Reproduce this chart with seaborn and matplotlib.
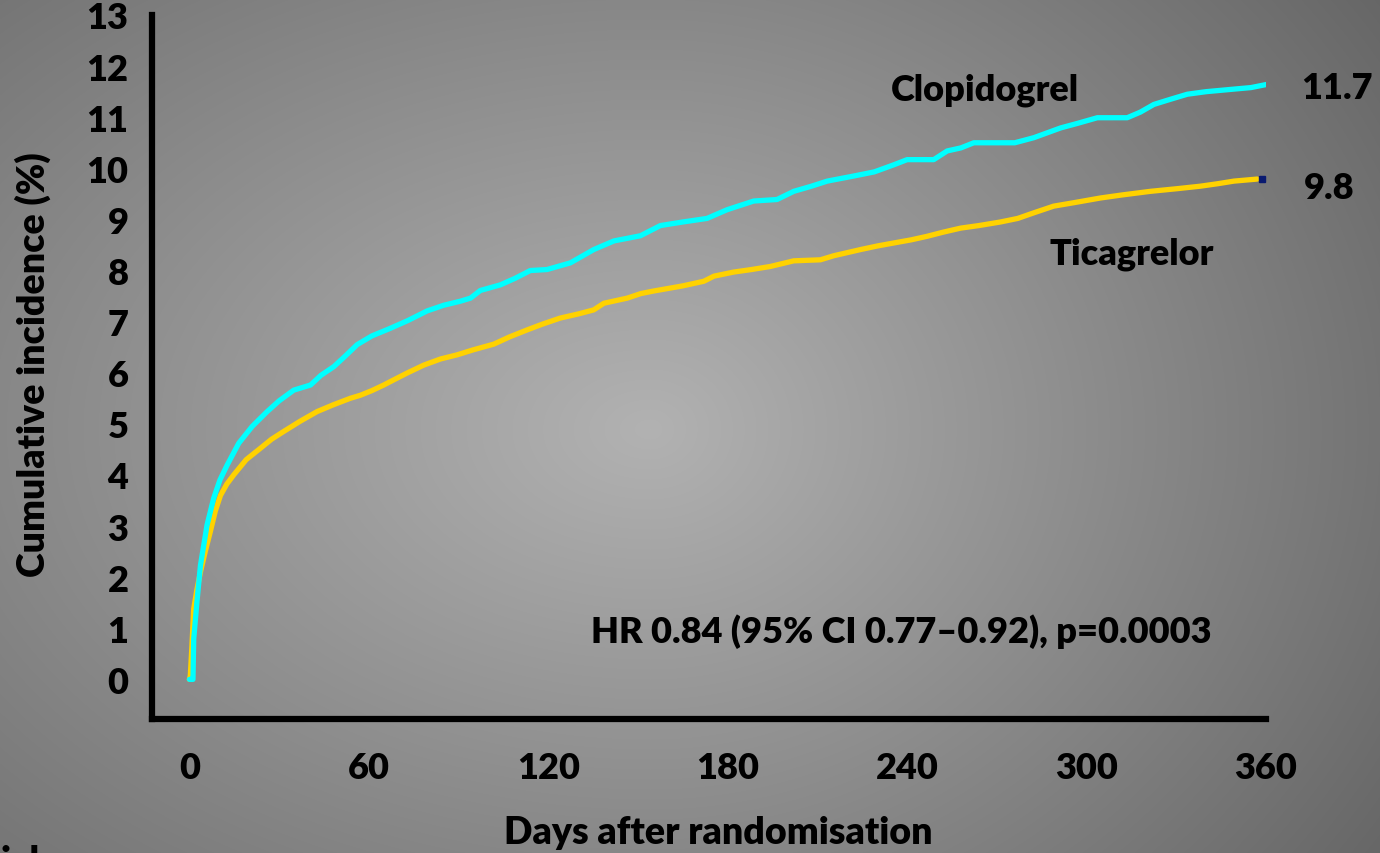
import numpy as np
import pandas as pd
import matplotlib
matplotlib.use("Agg")
import matplotlib.pyplot as plt
import seaborn as sns

# ---------------- data ----------------
clopi_days = [0, 1.2, 1.45, 2.5, 3.7, 5.9, 8.1, 10.2, 12.6, 16.5, 21, 26, 30, 34.9, 40.5, 44,
              48.3, 52, 56.1, 61, 67.2, 73, 79.5, 85, 90.6, 94, 97.3, 104, 109, 114, 119.6,
              127.4, 135.2, 142, 150.8, 157.5, 165, 173.1, 179.8, 188.7, 196.5, 202.1, 208,
              213.3, 222.2, 229, 235.6, 240, 248.9, 253.4, 258, 262.3, 271.2, 276, 282.4,
              291.3, 297, 303.6, 313.6, 318, 322.5, 328, 333.7, 340, 349.3, 355, 360.1]
clopi_vals = [0, 0, 0.79, 1.5, 2.23, 3.02, 3.54, 3.9, 4.19, 4.62, 4.95, 5.24, 5.45, 5.66, 5.76, 5.95,
              6.12, 6.32, 6.55, 6.72, 6.87, 7.02, 7.21, 7.32, 7.40, 7.46, 7.61, 7.72, 7.85, 8.0, 8.02,
              8.15, 8.41, 8.58, 8.68, 8.88, 8.95, 9.02, 9.19, 9.36, 9.39, 9.55, 9.65,
              9.75, 9.85, 9.93, 10.07, 10.17, 10.17, 10.34, 10.40, 10.5, 10.5, 10.5, 10.6,
              10.79, 10.88, 10.99, 10.99, 11.1, 11.25, 11.35, 11.45, 11.5, 11.55, 11.58, 11.64]

tica_days = [0, 0.3, 0.8, 1.45, 2.5, 3.7, 5.3, 7, 8.7, 10.4, 12.5, 14.8, 19, 23.7, 27.5, 31.5,
             37, 42.7, 48, 53.8, 57.2, 61, 65, 68.3, 73, 78.4, 84, 89.5, 95, 101.8, 107, 113,
             118, 124, 130, 135.2, 138.6, 146.4, 151, 155.3, 165, 172, 175.4, 182, 188, 194.3,
             202.1, 211, 215.5, 224.4, 230, 235.6, 241.3, 246.7, 252, 257.9, 264, 271.2, 277,
             282.4, 289, 296, 304.7, 312, 321.4, 330, 338, 344, 349.3, 357.1]
tica_vals = [0, 0.07, 0.6, 1.38, 1.75, 2.1, 2.5, 2.89, 3.3, 3.6, 3.82, 4.0, 4.3, 4.52, 4.7, 4.85,
             5.05, 5.24, 5.37, 5.5, 5.56, 5.65, 5.76, 5.86, 6.0, 6.15, 6.27, 6.35, 6.45, 6.56, 6.7, 6.84,
             6.95, 7.07, 7.15, 7.23, 7.36, 7.46, 7.55, 7.60, 7.7, 7.79, 7.89, 7.97, 8.02, 8.08,
             8.19, 8.21, 8.29, 8.41, 8.48, 8.54, 8.6, 8.67, 8.75, 8.83, 8.88, 8.95, 9.02,
             9.13, 9.26, 9.33, 9.42, 9.48, 9.55, 9.6, 9.65, 9.7, 9.75, 9.79]

end_marker_day = [358.8]
end_marker_val = [9.79]

x_ticks = [0, 60, 120, 180, 240, 300, 360]
y_ticks = list(range(0, 14))

final_labels = ["11.7", "9.8"]
final_label_y = [11.58, 9.62]
hr_text = "HR 0.84 (95% CI 0.77\u20130.92), p=0.0003"

# ---------------- style ----------------
sns.set_theme(style="white")
plt.rcParams['font.family'] = ['Lato', 'DejaVu Sans']
FW = 'heavy'

W, H = 1380, 854
fig = plt.figure(figsize=(W / 100, H / 100), dpi=100)

# radial gradient background
bg = fig.add_axes([0, 0, 1, 1], zorder=-10)
xx, yy = np.meshgrid(np.arange(W), np.arange(H))
cx, cy = 650, 430
sx = np.where(xx < cx, 950.0, 730.0)
r = np.sqrt(((xx - cx) / sx) ** 2 + ((yy - cy) / 620.0) ** 2)
g = np.clip(178 - 62 * r, 100, 200) / 255.0
bg.imshow(np.dstack([g, g, g]), aspect='auto', extent=[0, 1, 0, 1], origin='upper')
bg.set_axis_off()

ax = fig.add_axes([152 / W, (H - 720) / H, (1266 - 152) / W, (720 - 16) / H])
ax.patch.set_alpha(0)

df_t = pd.DataFrame({"day": tica_days, "val": tica_vals})
df_c = pd.DataFrame({"day": clopi_days, "val": clopi_vals})
sns.lineplot(data=df_t, x="day", y="val", ax=ax, color="#FFD200", lw=3.8,
             sort=False, estimator=None, zorder=3)
sns.lineplot(data=df_c, x="day", y="val", ax=ax, color="#00FFFF", lw=3.8,
             sort=False, estimator=None, zorder=4)
ax.plot(end_marker_day, end_marker_val, marker='s', ms=5, color="#0A1A70", lw=0, zorder=5)

ax.set_xlim(-12.5, 360)
ax.set_ylim(-0.775, 13.0)
ax.set_xticks(x_ticks)
ax.set_yticks(y_ticks)
ax.set_xticklabels([str(t) for t in x_ticks])
ax.set_yticklabels([str(t) for t in y_ticks])
ax.set_xlabel("")
ax.set_ylabel("")

for s in ["top", "right"]:
    ax.spines[s].set_visible(False)
for s in ["left", "bottom"]:
    ax.spines[s].set_color("black")
    ax.spines[s].set_linewidth(4.5)
    ax.spines[s].set_capstyle("projecting")

ax.tick_params(axis='both', which='major', direction='out', color='black',
               length=10, width=3.5, labelsize=26, labelcolor='black')
ax.tick_params(axis='y', pad=7)
ax.tick_params(axis='x', pad=13)
for lab in ax.get_xticklabels() + ax.get_yticklabels():
    lab.set_fontweight(FW)

# annotations
ax.text(234.4, 11.54, "Clopidogrel", fontsize=26, fontweight=FW, color='black',
        ha='left', va='center', clip_on=False)
ax.text(315, 8.34, "Ticagrelor", fontsize=26, fontweight=FW, color='black',
        ha='center', va='center', clip_on=False)
ax.text(383.6, final_label_y[0], final_labels[0], fontsize=26, fontweight=FW,
        color='black', ha='center', va='center', clip_on=False)
ax.text(381, final_label_y[1], final_labels[1], fontsize=26, fontweight=FW,
        color='black', ha='center', va='center', clip_on=False)
ax.text(238, 0.95, hr_text, fontsize=26, fontweight=FW, color='black',
        ha='center', va='center', clip_on=False)

fig.text(718 / W, (H - 833) / H, "Days after randomisation", fontsize=27,
         fontweight=FW, color='black', ha='center', va='center')
fig.text(33 / W, (H - 365) / H, "Cumulative incidence (%)", fontsize=27,
         fontweight=FW, color='black', ha='center', va='center', rotation=90)
fig.text(0.0, (H - 845) / H, "ial", fontsize=27, fontweight=FW, color='black',
         ha='left', va='top')

fig.savefig("out.png", dpi=100)
